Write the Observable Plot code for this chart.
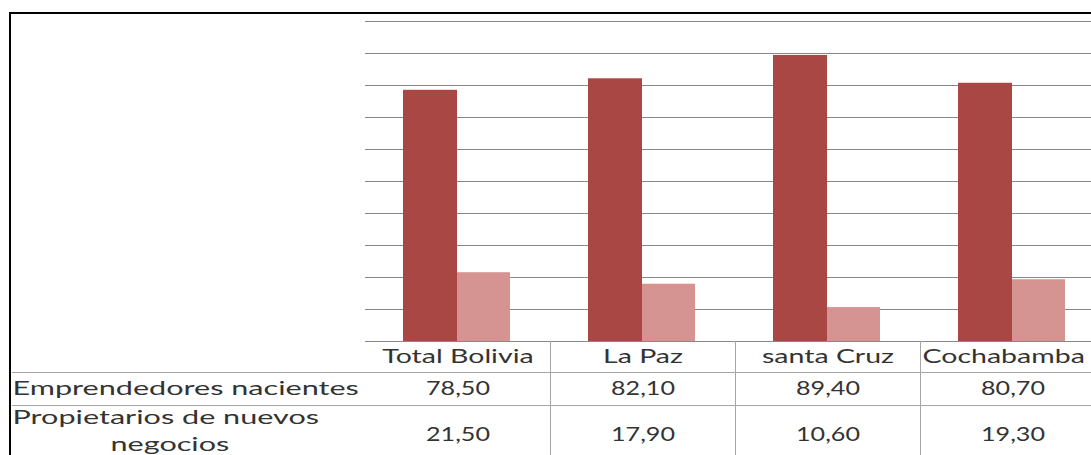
<!DOCTYPE html>
<html><head><meta charset="utf-8">
<script src="https://cdn.jsdelivr.net/npm/d3@7"></script>
<script src="https://cdn.jsdelivr.net/npm/@observablehq/plot@0.6"></script>
<style>
html,body{margin:0;padding:0;background:#fff;}
#wrap{position:relative;width:1091px;height:455px;overflow:hidden;}
#chart svg{display:block;}
#border{position:absolute;left:9px;top:12px;right:-10px;bottom:-10px;border-top:2px solid #000;border-left:2px solid #000;pointer-events:none;}
</style></head><body>
<div id="wrap"><div id="chart"></div><div id="border"></div></div>
<script>
const categories = ["Total Bolivia", "La Paz", "santa Cruz", "Cochabamba"];
const emprendedores = [78.5, 82.1, 89.4, 80.7];
const propietarios = [21.5, 17.9, 10.6, 19.3];
const rowLabel1 = ["Emprendedores nacientes"];
const rowLabel2 = ["Propietarios de nuevos", "negocios"];
const yTicks = [0, 10, 20, 30, 40, 50, 60, 70, 80, 90, 100];

const fmt = v => v.toFixed(2).replace(".", ",");
const rows1 = categories.map((c, i) => ({c, v: emprendedores[i]}));
const rows2 = categories.map((c, i) => ({c, v: propietarios[i]}));

const DARK = "#a94744", LIGHT = "#d59391", GRID = "#888888", TGRID = "#a6a6a6", INK = "#333333";
const BW = 185;

const svg = Plot.plot({
  width: 1091, height: 455,
  marginLeft: 365, marginRight: 0, marginTop: 21, marginBottom: 114,
  style: {fontFamily: "Lato", fontSize: "19px", fontWeight: 400, background: "#fff", color: INK},
  x: {type: "band", domain: categories, range: [365, 365 + BW * categories.length], padding: 0, axis: null},
  y: {domain: [0, 100], axis: null},
  marks: [
    Plot.ruleY(yTicks, {stroke: GRID, strokeWidth: 1}),
    Plot.barY(rows1, {x: "c", y: "v", fill: DARK, insetLeft: 38, insetRight: 93}),
    Plot.barY(rows2, {x: "c", y: "v", fill: LIGHT, insetLeft: 92, insetRight: 40}),
    // table lines
    Plot.ruleY([0], {dy: 31, insetLeft: -353, stroke: TGRID}),
    Plot.ruleY([0], {dy: 64, insetLeft: -353, stroke: TGRID}),
    Plot.ruleX(categories.slice(1), {dx: -BW / 2, insetTop: 320, insetBottom: -120, stroke: TGRID}),
    // header labels
    Plot.text(categories.slice(0, 3), {x: d => d, text: d => d, frameAnchor: "bottom", dy: 21, fill: INK, className: "hdr"}),
    Plot.text(categories.slice(3), {x: d => d, text: d => d, frameAnchor: "bottom", dy: 21, dx: -BW / 2 + 2, textAnchor: "start", fill: INK, className: "hdr"}),
    // values
    Plot.text(rows1, {x: "c", text: d => fmt(d.v), frameAnchor: "bottom", dy: 53, fill: INK, className: "num"}),
    Plot.text(rows2, {x: "c", text: d => fmt(d.v), frameAnchor: "bottom", dy: 99, fill: INK, className: "num"}),
    // row labels
    Plot.text(rowLabel1, {text: d => d, frameAnchor: "bottom-left", dx: -353, dy: 53, textAnchor: "start", fill: INK, className: "lbl"}),
    Plot.text(rowLabel2.slice(0, 1), {text: d => d, frameAnchor: "bottom-left", dx: -353, dy: 82, textAnchor: "start", fill: INK, className: "lbl"}),
    Plot.text(rowLabel2.slice(1), {text: d => d, frameAnchor: "bottom-left", dx: -255, dy: 109, textAnchor: "start", fill: INK, className: "lbl"})
  ]
});
document.getElementById("chart").append(svg);
const stretch = {hdr: 1.5, num: 1.32, lbl: 1.61};
for (const [cls, k] of Object.entries(stretch)) {
  svg.querySelectorAll(`g.${cls} text, .${cls} text`).forEach(t => {
    if (t.hasAttribute("textLength")) return;
    const w = t.getComputedTextLength();
    t.setAttribute("textLength", (w * k).toFixed(1));
    t.setAttribute("lengthAdjust", "spacingAndGlyphs");
  });
}
</script>
</body></html>
